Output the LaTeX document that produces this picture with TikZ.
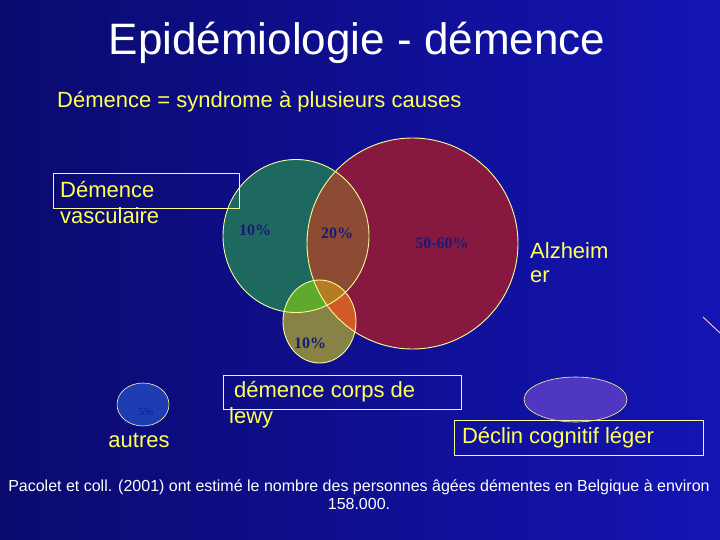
\documentclass[tikz,border=0pt]{standalone}
\usepackage{fontspec}
\setmainfont{Liberation Sans}
\newfontfamily\pctfont{Liberation Serif}
\definecolor{bgL}{RGB}{10,10,110}
\definecolor{bgR}{RGB}{20,20,180}
\definecolor{ylw}{RGB}{255,255,90}
\definecolor{edge}{RGB}{250,250,150}
\definecolor{pct}{RGB}{25,25,120}
\definecolor{cgreen}{RGB}{30,105,95}
\definecolor{cred}{RGB}{135,25,65}
\definecolor{cgr}{RGB}{140,75,50}
\definecolor{colive}{RGB}{135,130,70}
\definecolor{cog}{RGB}{95,170,45}
\definecolor{cor}{RGB}{210,90,40}
\definecolor{cogr}{RGB}{180,125,35}
\definecolor{cblue}{RGB}{30,60,180}
\definecolor{cpurple}{RGB}{80,55,195}
\tikzset{
  lbl/.style={text=ylw, font=\fontsize{22}{24}\selectfont, inner sep=0pt, anchor=west},
  pctlbl/.style={text=pct, font=\pctfont\bfseries\fontsize{16}{18}\selectfont, inner sep=0pt},
  boxy/.style={draw=edge, line width=0.9pt},
  rim/.style={draw=edge, line width=0.9pt}
}
\begin{document}
\begin{tikzpicture}[x=1pt,y=-1pt]
\useasboundingbox (0,0) rectangle (720,540);
\shade[left color=bgL, right color=bgR] (0,0) rectangle (720,540);
% title
\node[text=white, font=\fontsize{44}{48}\selectfont, inner sep=0pt] (title) at (357,43) {Epidémiologie - démence};
\node[lbl] (sub) at (57,102) {Démence = syndrome à plusieurs causes};
% circles
\def\gcirc{(296,236) ellipse [x radius=73, y radius=76.5]}
\def\rcirc{(412.5,243.5) circle [radius=105.5]}
\def\ocirc{(319.5,321.5) ellipse [x radius=36.5, y radius=41.5]}
\fill[cgreen] \gcirc;
\fill[cred] \rcirc;
\begin{scope}\clip \gcirc; \fill[cgr] \rcirc; \end{scope}
\fill[colive] \ocirc;
\begin{scope}\clip \ocirc; \fill[cog] \gcirc; \end{scope}
\begin{scope}\clip \ocirc; \fill[cor] \rcirc; \end{scope}
\begin{scope}\clip \ocirc; \clip \gcirc; \fill[cogr] \rcirc; \end{scope}
\draw[rim] \gcirc;
\draw[rim] \rcirc;
\draw[rim] \ocirc;
\node[pctlbl] (p1) at (255,230) {10\%};
\node[pctlbl] (p2) at (337,233) {20\%};
\node[pctlbl] (p3) at (442,243) {50-60\%};
\node[pctlbl] (p4) at (310,343) {10\%};
% vascular
\draw[boxy] (53,173) rectangle (239,208);
\node[lbl] (vasc1) at (60,190) {Démence};
\node[lbl] (vasc2) at (60,216) {vasculaire};
% alzheimer
\node[lbl] (alz1) at (530,251) {Alzheim};
\node[lbl] (alz2) at (530,277) {er};
% autres
\fill[cblue, draw=edge, line width=0.6pt] (143,404.5) ellipse [x radius=26, y radius=21.5];
\node[pctlbl, font=\pctfont\fontsize{11}{12}\selectfont, text=pct!80!blue] (p5) at (146,412) {5\%};
\node[lbl, anchor=center] (autres) at (139,440) {autres};
% lewy
\draw[boxy] (223,375) rectangle (461,409);
\node[lbl] (lewy1) at (234,392) {démence corps de};
\node[lbl] (lewy2) at (229,418) {lewy};
% MCI
\fill[cpurple, draw=edge, line width=0.6pt] (575.5,399.5) ellipse [x radius=51.5, y radius=22.5];
\draw[boxy] (454,420) rectangle (703,455);
\node[lbl, anchor=center] (mci) at (558,438) {Déclin cognitif léger};
% line at right
\draw[draw=pink!80!white, line width=0.9pt] (703,317) -- (720,333);
% footer
\node[text=white, font=\fontsize{16}{18}\selectfont, align=center, inner sep=0pt] (foot) at (359,495) {Pacolet et coll. (2001) ont estimé le nombre des personnes âgées démentes en Belgique à environ\\158.000.};
\end{tikzpicture}
\end{document}
